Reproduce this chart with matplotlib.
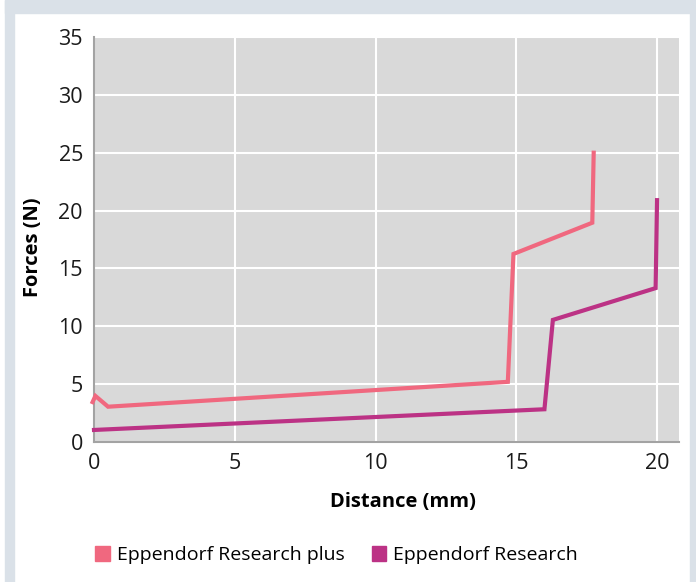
import matplotlib.pyplot as plt
from matplotlib.patches import Patch, Rectangle

plt.rcParams['font.family'] = ['Open Sans', 'DejaVu Sans']

# Eppendorf Research plus
plus_x = [-0.05, 0.05, 0.5, 14.7, 14.9, 17.7, 17.75]
plus_y = [3.45, 3.98, 3.05, 5.2, 16.25, 18.95, 25.0]

# Eppendorf Research
res_x = [0.0, 16.0, 16.3, 19.95, 20.0]
res_y = [1.04, 2.83, 10.55, 13.3, 20.9]

labels = ['Eppendorf Research plus', 'Eppendorf Research']
colors = ['#F0687F', '#BC3285']

W, H = 696, 582
fig = plt.figure(figsize=(W / 100, H / 100), dpi=100)

# light frame around the figure
frame = '#DAE1E8'
fig.patches.append(Rectangle((5 / W, 0), 9 / W, 1, transform=fig.transFigure, color=frame, zorder=0))
fig.patches.append(Rectangle((5 / W, 1 - 13 / H), 1, 13 / H, transform=fig.transFigure, color=frame, zorder=0))
fig.patches.append(Rectangle((690 / W, 0), 6 / W, 1, transform=fig.transFigure, color=frame, zorder=0))

ax = fig.add_axes([94 / W, 1 - 442 / H, 585 / W, 405 / H])
ax.set_facecolor('#D9D9D9')

ax.plot(plus_x, plus_y, color=colors[0], lw=3, solid_joinstyle='miter', clip_on=False, zorder=3)
ax.plot(res_x, res_y, color=colors[1], lw=3, solid_joinstyle='miter', clip_on=False, zorder=3)

ax.set_xlim(0, 20.78)
ax.set_ylim(0, 35)
ax.set_xticks([0, 5, 10, 15, 20])
ax.set_yticks(range(0, 36, 5))
ax.grid(True, color='white', lw=1.5)
ax.set_axisbelow(True)

for s in ['top', 'right']:
    ax.spines[s].set_visible(False)
for s in ['left', 'bottom']:
    ax.spines[s].set_color('#A3A3A3')
    ax.spines[s].set_linewidth(1.5)

ax.tick_params(axis='both', length=0, labelsize=15.5, colors='#1a1a1a')
ax.tick_params(axis='y', pad=8)
ax.tick_params(axis='x', pad=8)

ax.set_xlabel('Distance (mm)', fontsize=14.5, fontweight='bold')
ax.xaxis.set_label_coords(0.528, -0.148)
ax.xaxis.label.set_va('center')
ax.set_ylabel('Forces (N)', fontsize=14.5, fontweight='bold')
ax.yaxis.set_label_coords(-0.104, 0.481)
ax.yaxis.label.set_va('center')

handles = [Patch(color=c, label=l) for c, l in zip(colors, labels)]
fig.legend(handles=handles, loc='center left', bbox_to_anchor=(0.112, 0.046), ncol=2,
           frameon=False, fontsize=14, handlelength=0.75, handleheight=0.75,
           handletextpad=0.35, columnspacing=1.4)

fig.savefig('out.png', dpi=100)
